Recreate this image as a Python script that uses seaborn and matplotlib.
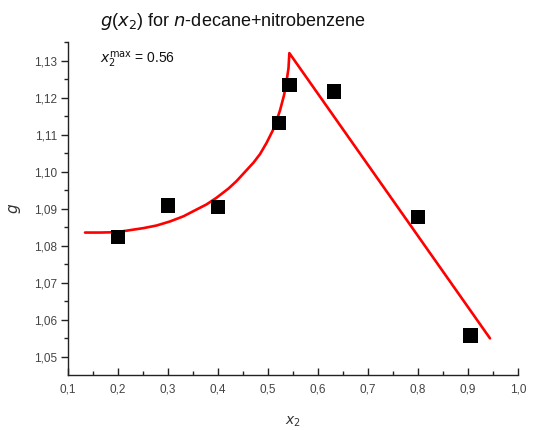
import matplotlib
matplotlib.use("Agg")
import matplotlib.pyplot as plt
import matplotlib.ticker as mticker
import seaborn as sns
import pandas as pd

# measured points
x_data = [0.2, 0.3, 0.4, 0.522, 0.543, 0.632, 0.8, 0.905]
g_data = [1.0824, 1.0909, 1.0905, 1.1132, 1.1235, 1.1217, 1.0878, 1.0557]

# fitted curve
x_fit = [0.134, 0.164, 0.197, 0.251, 0.277, 0.304, 0.331, 0.351, 0.377, 0.397,
         0.421, 0.437, 0.454, 0.471, 0.484, 0.497, 0.5107, 0.517, 0.524, 0.532,
         0.536, 0.541, 0.5427, 0.944]
g_fit = [1.0836, 1.0836, 1.0837, 1.0848, 1.0855, 1.0866, 1.0880, 1.0894, 1.0912, 1.0930,
         1.0955, 1.0975, 1.1000, 1.1025, 1.1048, 1.1078, 1.1115, 1.1138, 1.1166, 1.1207,
         1.1235, 1.1280, 1.1321, 1.0550]

x_ticks = [0.1, 0.2, 0.3, 0.4, 0.5, 0.6, 0.7, 0.8, 0.9, 1.0]
g_ticks = [1.05, 1.06, 1.07, 1.08, 1.09, 1.10, 1.11, 1.12, 1.13]

df_data = pd.DataFrame({'x': x_data, 'g': g_data})
df_fit = pd.DataFrame({'x': x_fit, 'g': g_fit})

sns.set_style('white')
plt.rcParams['font.family'] = ['Liberation Sans', 'DejaVu Sans']

fig = plt.figure(figsize=(5.33, 4.30), dpi=100)
ax = fig.add_axes([68/533, 1 - 375/430, 450/533, 333/430])

sns.lineplot(data=df_fit, x='x', y='g', sort=False, color='red', linewidth=1.9, ax=ax)
sns.scatterplot(data=df_data, x='x', y='g', marker='s', s=110, color='black',
                edgecolor='none', ax=ax, zorder=3)

ax.set_xlim(0.1, 1.0)
ax.set_ylim(1.0451, 1.1351)
ax.set_xticks(x_ticks)
ax.set_yticks(g_ticks)
ax.xaxis.set_minor_locator(mticker.MultipleLocator(0.05))
ax.yaxis.set_minor_locator(mticker.MultipleLocator(0.005))
ax.xaxis.set_major_formatter(mticker.FuncFormatter(lambda v, p: f'{v:.1f}'.replace('.', ',')))
ax.yaxis.set_major_formatter(mticker.FuncFormatter(lambda v, p: f'{v:.2f}'.replace('.', ',')))

for s in ['top', 'right']:
    ax.spines[s].set_visible(False)
for s in ['left', 'bottom']:
    ax.spines[s].set_color('#222222')
    ax.spines[s].set_linewidth(1.0)

ax.tick_params(axis='x', which='major', bottom=True, direction='in', length=5, width=1,
               colors='#222222', labelcolor='#444444', labelsize=8.5, pad=6)
ax.tick_params(axis='x', which='minor', bottom=True, direction='in', length=3, width=1,
               colors='#222222')
ax.tick_params(axis='y', which='major', left=True, direction='out', length=5, width=1,
               colors='#222222', labelcolor='#444444', labelsize=8.5, pad=3)
ax.tick_params(axis='y', which='minor', left=True, direction='out', length=3, width=1,
               colors='#222222')

ax.set_xlabel('$x_{2}$', fontsize=10, color='#333333', labelpad=14)
ax.set_ylabel('$g$', fontsize=11, color='#333333', labelpad=8)

fig.text(100/533, 1 - 22/430, r'$g$($x_{2}$) for $n$-decane+nitrobenzene', fontsize=13,
         va='center', ha='left', color='#111111')
fig.text(100/533, 1 - 60/430, r'$x_{2}^{\mathrm{max}}$ = 0.56', fontsize=10,
         va='center', ha='left', color='#111111')

fig.savefig('out.png', dpi=100)
